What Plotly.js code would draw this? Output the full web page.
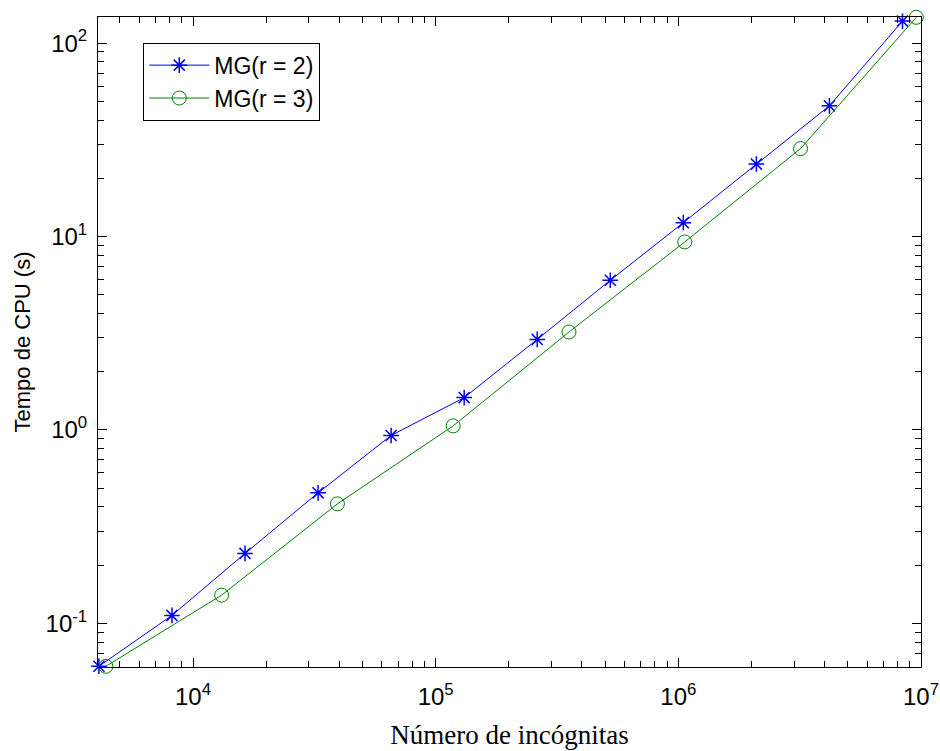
<!DOCTYPE html>
<html>
<head>
<meta charset="utf-8">
<script src="https://cdn.plot.ly/plotly-3.0.1.min.js"></script>
<style>html,body{margin:0;padding:0;background:#fff;}#chart{width:940px;height:751px;}</style>
</head>
<body>
<div id="chart"></div>
<script>
// Number of unknowns and CPU time (s)
const unknownsR2 = [4096, 8192, 16384, 32768, 65536, 131072, 262144, 524288, 1048576, 2097152, 4194304, 8388608];
const timeR2 = [0.06, 0.110, 0.230, 0.473, 0.937, 1.47, 2.94, 5.94, 11.8, 23.7, 47.4, 130];
const unknownsR3 = [4374, 13122, 39366, 118098, 354294, 1062882, 3188646, 9565938];
const timeR3 = [0.06, 0.140, 0.415, 1.05, 3.21, 9.38, 28.5, 136];
const seriesNames = ['MG(r = 2)', 'MG(r = 3)'];

const xMajor = [1e4, 1e5, 1e6, 1e7];
const xMajorText = ['10<sup>4</sup>', '10<sup>5</sup>', '10<sup>6</sup>', '10<sup>7</sup>'];
const yMajor = [0.1, 1, 10, 100];
const yMajorText = ['10<sup>-1</sup>', '10<sup>0</sup>', '10<sup>1</sup>', '10<sup>2</sup>'];

function minorVals(lo, hi) {
  const out = [];
  for (let e = lo; e <= hi; e++) {
    for (let m = 2; m <= 9; m++) out.push(m * Math.pow(10, e));
  }
  return out;
}

const xRange = [Math.log10(4060), 7];
const yRange = [Math.log10(0.0595), Math.log10(136.5)];

const traces = [
  {
    x: unknownsR2, y: timeR2, name: seriesNames[0], type: 'scatter', mode: 'lines+markers',
    cliponaxis: false,
    line: {color: '#0000ff', width: 1},
    marker: {symbol: 'asterisk-open', size: 13, color: '#0000ff', line: {color: '#0000ff', width: 1.5}}
  },
  {
    x: unknownsR3, y: timeR3, name: seriesNames[1], type: 'scatter', mode: 'lines+markers',
    cliponaxis: false,
    line: {color: '#008000', width: 1},
    marker: {symbol: 'circle-open', size: 14, color: '#008000', line: {color: '#008000', width: 1}}
  },
  {
    // carrier for the minor-tick overlay axes
    x: [1e5], y: [1], xaxis: 'x2', yaxis: 'y2', type: 'scatter', mode: 'markers',
    marker: {opacity: 0}, showlegend: false, hoverinfo: 'skip'
  }
];

const tickFont = {family: 'Liberation Sans, Arial, sans-serif', size: 24, color: '#000'};

const axisCommon = {
  type: 'log',
  showgrid: false,
  zeroline: false,
  showline: true,
  linecolor: '#000',
  linewidth: 1,
  mirror: 'allticks',
  ticks: 'inside',
  ticklen: 9,
  tickwidth: 1,
  tickcolor: '#000',
  tickmode: 'array',
  tickfont: tickFont
};

const minorCommon = {
  type: 'log',
  showgrid: false,
  zeroline: false,
  showline: true,
  linecolor: '#000',
  linewidth: 1,
  mirror: 'allticks',
  ticks: 'inside',
  ticklen: 6,
  tickwidth: 1,
  tickcolor: '#000',
  tickmode: 'array',
  showticklabels: false
};

const layout = {
  width: 940, height: 751,
  paper_bgcolor: '#fff', plot_bgcolor: '#fff',
  margin: {l: 98, r: 19, t: 17, b: 84},
  showlegend: true,
  legend: {
    x: 0.055, y: 0.9605, xanchor: 'left', yanchor: 'top',
    bgcolor: '#fff', bordercolor: '#000', borderwidth: 1,
    font: {family: 'Liberation Sans, Arial, sans-serif', size: 23, color: '#000'},
    itemwidth: 60,
    tracegroupgap: 0
  },
  xaxis: Object.assign({}, axisCommon, {
    range: xRange,
    tickvals: xMajor, ticktext: xMajorText,
    ticklabelstandoff: 8,
    title: {text: 'Número de incógnitas', font: {family: 'Liberation Serif, Times New Roman, serif', size: 27, color: '#000'}, standoff: 16}
  }),
  yaxis: Object.assign({}, axisCommon, {
    range: yRange,
    tickvals: yMajor, ticktext: yMajorText,
    ticklabelstandoff: 5,
    title: {text: 'Tempo de CPU (s)', font: {family: 'Liberation Sans, Arial, sans-serif', size: 22, color: '#000'}, standoff: 8}
  }),
  xaxis2: Object.assign({}, minorCommon, {
    range: xRange, overlaying: 'x', side: 'bottom', anchor: 'y2',
    tickvals: minorVals(3, 6)
  }),
  yaxis2: Object.assign({}, minorCommon, {
    range: yRange, overlaying: 'y', side: 'left', anchor: 'x2',
    tickvals: minorVals(-2, 2)
  })
};

Plotly.newPlot('chart', traces, layout, {displayModeBar: false, staticPlot: true});
</script>
</body>
</html>
